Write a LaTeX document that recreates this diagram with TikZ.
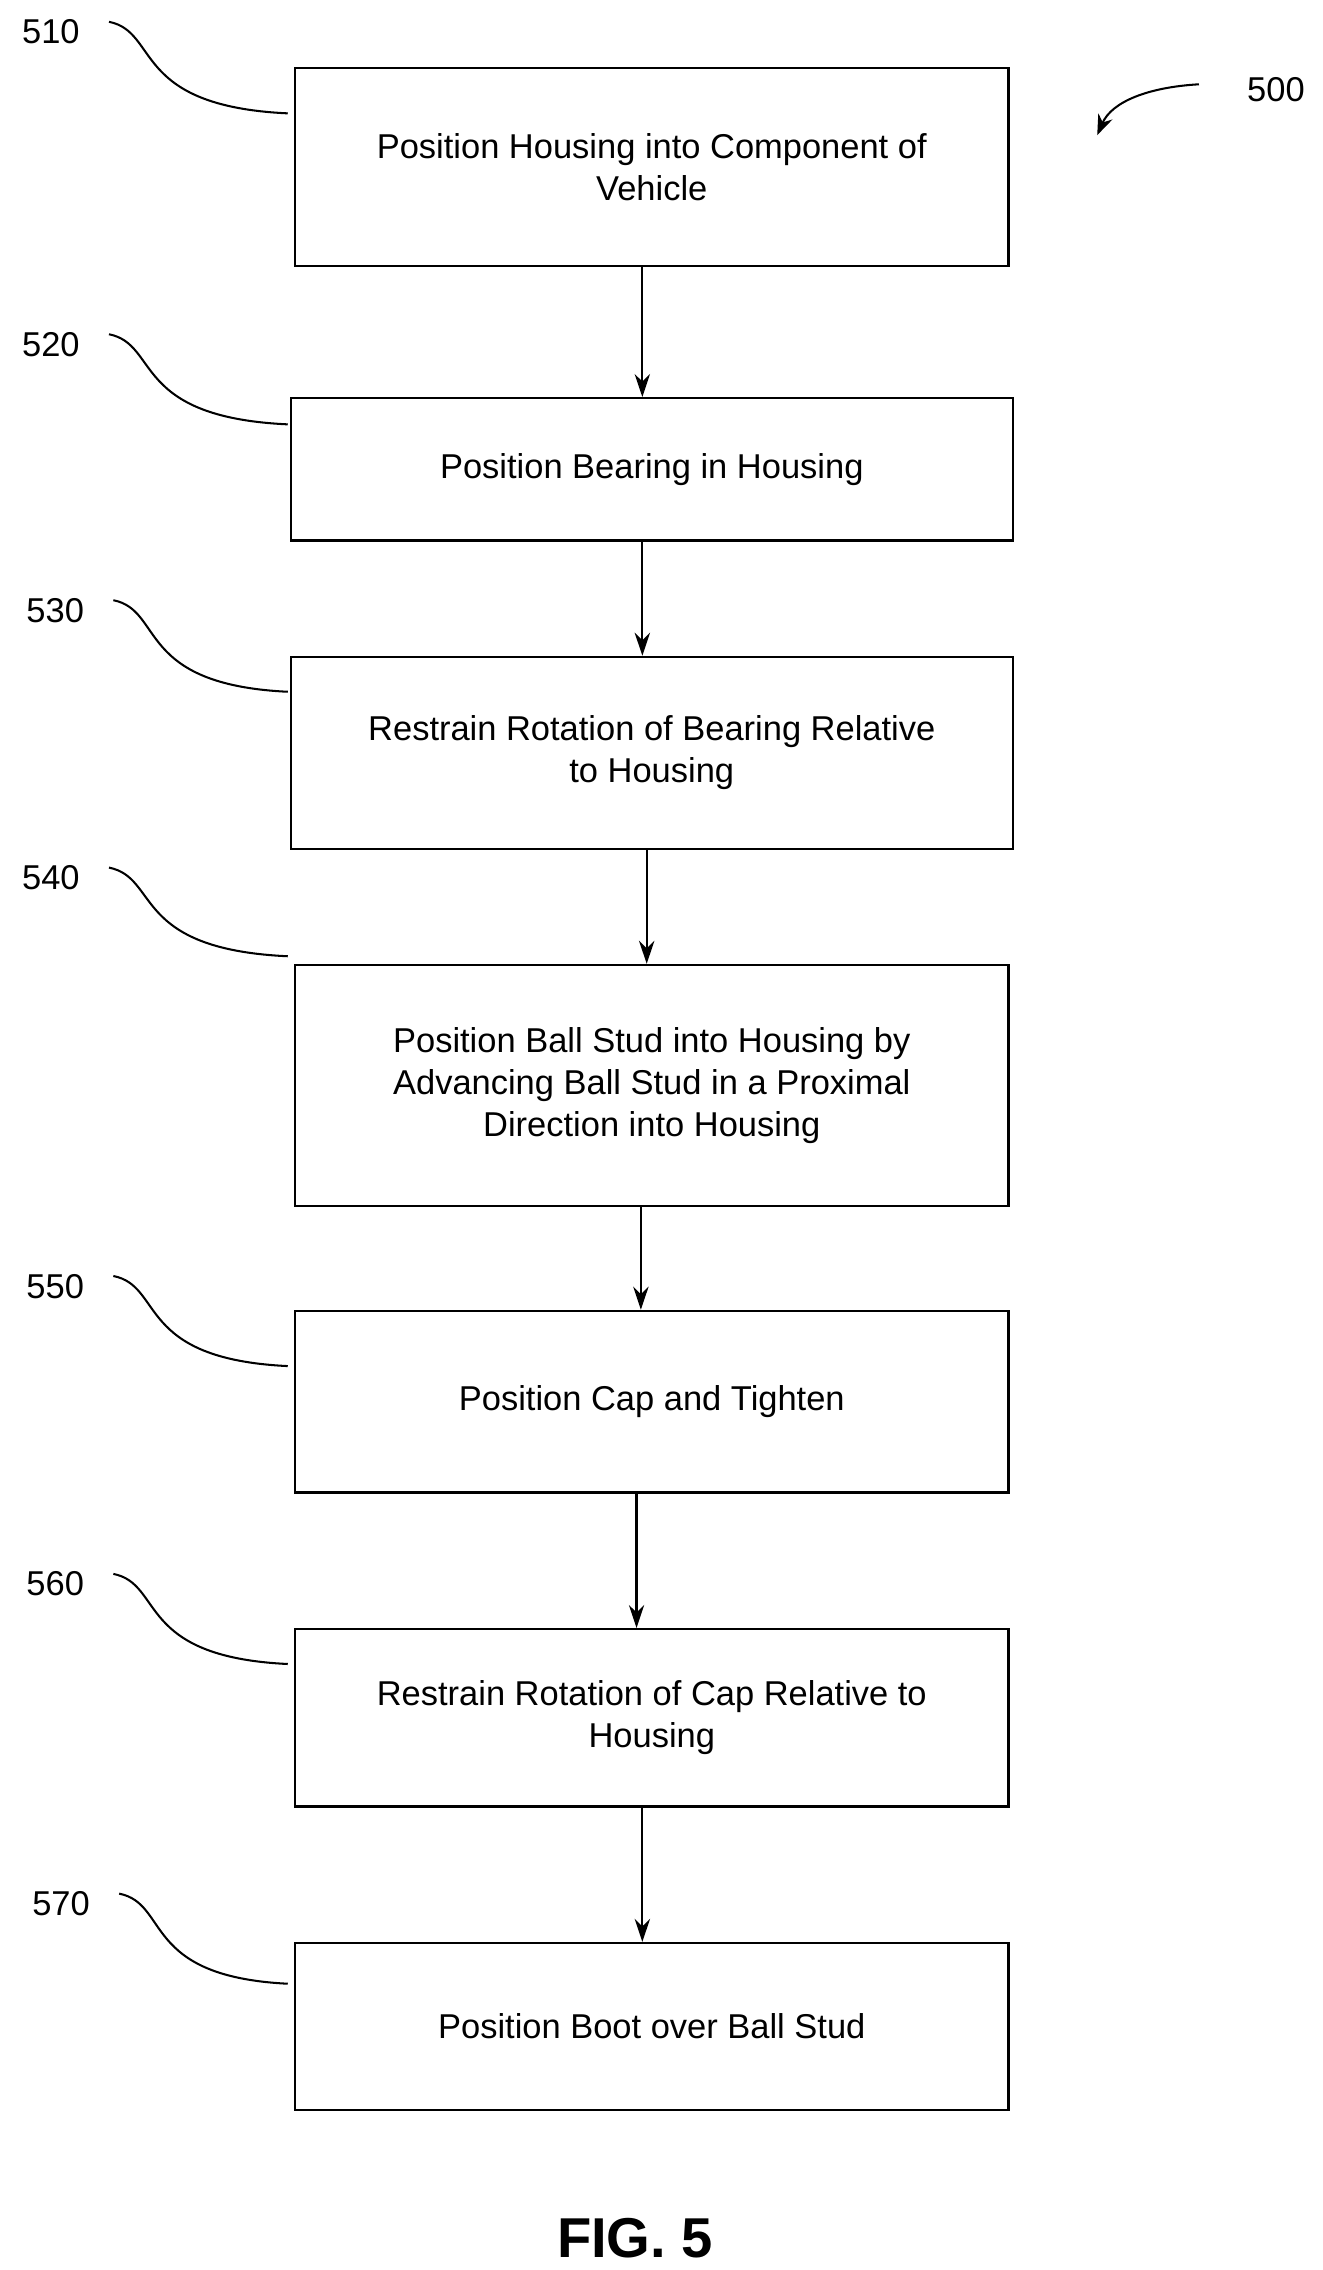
\documentclass[tikz,border=0pt]{standalone}
\usepackage{fontspec}
\setmainfont{Liberation Sans}
\usetikzlibrary{arrows.meta}
\begin{document}
\begin{tikzpicture}[x=0.02cm,y=-0.02cm,
  box/.style={draw,line width=0.9pt,inner sep=0pt,align=center,font=\fontsize{13.5}{16.5}\selectfont},
  lab/.style={font=\fontsize{13.5}{16}\selectfont},
  lead/.style={line width=0.8pt},
  arr/.style={-{Stealth[length=9pt,width=6pt]},line width=0.9pt}]
\useasboundingbox (0,0) rectangle (910,1562);
\def\bx#1#2#3#4#5#6{\node[box,minimum width=#3*0.02cm-#2*0.02cm,minimum height=#5*0.02cm-#4*0.02cm] (#1) at ({(#2+#3)/2},{(#4+#5)/2}) {#6};}
\bx{b510}{203}{694}{47}{183}{Position Housing into Component of\\Vehicle}
\bx{b520}{200}{697}{274}{372}{Position Bearing in Housing}
\bx{b530}{200}{697}{452}{584}{Restrain Rotation of Bearing Relative\\to Housing}
\bx{b540}{203}{694}{664}{830}{Position Ball Stud into Housing by\\Advancing Ball Stud in a Proximal\\Direction into Housing}
\bx{b550}{203}{694}{902}{1027}{Position Cap and Tighten}
\bx{b560}{203}{694}{1121}{1243}{Restrain Rotation of Cap Relative to\\Housing}
\bx{b570}{203}{694}{1337}{1452}{Position Boot over Ball Stud}
\foreach \a/\b/\x in {b510/b520/442,b520/b530/442,b530/b540/445,b540/b550/441,b550/b560/438,b560/b570/442}
  \draw[arr] (\x,0 |- \a.south) -- (\x,0 |- \b.north);
\foreach \n/\lx/\ly/\y in {510/35/22/78,520/35/237/292,530/38/420/476,540/35/604/658,550/38/885/940,560/38/1090/1145,570/42/1310/1365}{
  \node[lab] (l\n) at (\lx,\ly) {\n};
  \coordinate (e\n) at (198,\y);
  \draw[lead] (\lx+40,\ly-7) .. controls (\lx+75,\ly) and (\lx+55,\y-\ly-5+\ly) .. (e\n);
}
\node[lab] (l500) at (878,62) {500};
\coordinate (s500) at (825,58);
\coordinate (t500) at (755,93);
\draw[lead,-{Stealth[length=8pt,width=6pt]}] (s500) .. controls (790,60) and (765,70) .. (t500);
\node[font=\bfseries\fontsize{22}{26}\selectfont] (fig) at (437,1540) {FIG. 5};
\end{tikzpicture}
\end{document}
